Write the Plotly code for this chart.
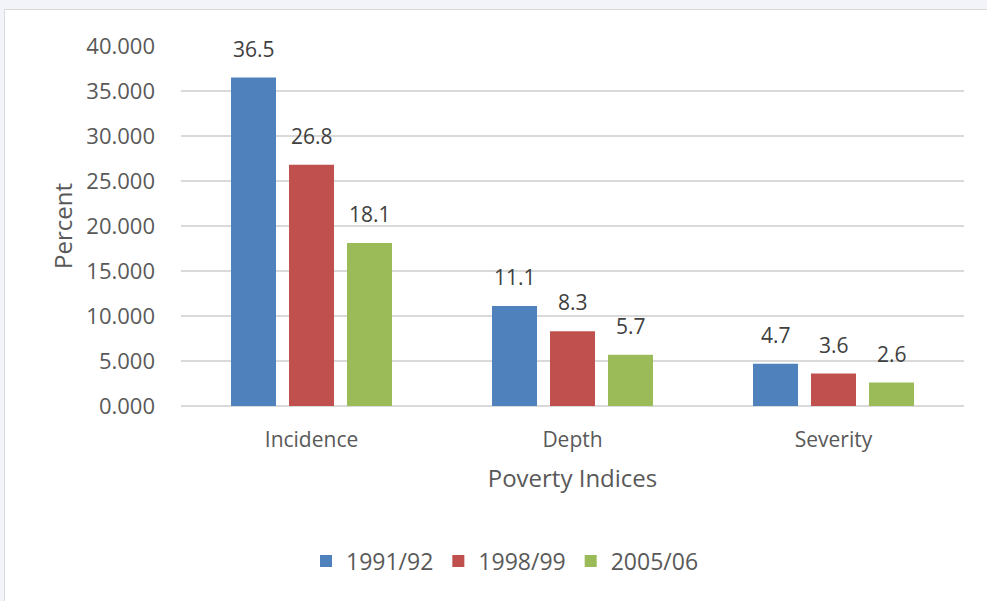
import plotly.graph_objects as go

categories = ["Incidence", "Depth", "Severity"]
series_names = ["1991/92", "1998/99", "2005/06"]
values_1991 = [36.5, 11.1, 4.7]
values_1998 = [26.8, 8.3, 3.6]
values_2005 = [18.1, 5.7, 2.6]
colors = ["#4F81BD", "#C0504D", "#9BBB59"]

all_values = [values_1991, values_1998, values_2005]

W, H = 987, 601
ML, MR, MT, MB = 181, 23, 46, 195
BARGAP = 1/3
BARGROUPGAP = 0.224
FONT = "Open Sans"

fig = go.Figure()
for name, vals, col in zip(series_names, all_values, colors):
    fig.add_trace(go.Bar(x=categories, y=vals, name=name, marker=dict(color=col, line=dict(width=0))))

# data labels as annotations above each bar
n = len(series_names)
slot = (1 - BARGAP) / n
annotations = []
for j, vals in enumerate(all_values):
    for i, v in enumerate(vals):
        annotations.append(dict(
            x=i + (j - (n - 1) / 2) * slot, y=v, xref="x", yref="y",
            text=f"{v:.1f}", showarrow=False, yanchor="bottom", yshift=13,
            font=dict(family=FONT, size=21, color="#404040")))

pw = W - ML - MR
ph = H - MT - MB
shapes = [dict(type="rect", xref="paper", yref="paper", layer="below",
               x0=(4.5 - ML) / pw, x1=(W + 20 - ML) / pw,
               y0=(H - MB - (H + 20)) / ph, y1=(H - MB - 9.5) / ph,
               fillcolor="white", line=dict(color="#d9d9d9", width=1))]

fig.update_layout(
    width=W, height=H,
    margin=dict(l=ML, r=MR, t=MT, b=MB),
    paper_bgcolor="#f3f4f9", plot_bgcolor="white",
    barmode="group", bargap=BARGAP, bargroupgap=BARGROUPGAP,
    font=dict(family=FONT, color="#595959"),
    annotations=annotations, shapes=shapes,
    legend=dict(orientation="h", x=(505 - ML) / pw, xanchor="center",
                y=(H - MB - 561) / ph, yanchor="middle",
                font=dict(family=FONT, size=23, color="#595959"),
                bgcolor="rgba(0,0,0,0)"),
    xaxis=dict(showgrid=False, showline=False, ticks="",
               tickfont=dict(family=FONT, size=21, color="#595959"),
               ticklabelstandoff=19,
               title=dict(text="Poverty Indices", standoff=18,
                          font=dict(family=FONT, size=24, color="#595959"))),
    yaxis=dict(range=[0, 40], dtick=5, tickformat=".3f",
               showgrid=True, gridcolor="#d9d9d9", gridwidth=1.5,
               zeroline=True, zerolinecolor="#d9d9d9", zerolinewidth=1.5,
               showline=False, ticks="",
               tickfont=dict(family=FONT, size=22, color="#595959"),
               ticklabelstandoff=25,
               title=dict(text="Percent", standoff=6,
                          font=dict(family=FONT, size=24, color="#595959"))),
)

fig.write_html("out.html", config={"displayModeBar": False},
               post_script="document.body.style.margin='0';document.body.style.background='#f3f4f9';")
